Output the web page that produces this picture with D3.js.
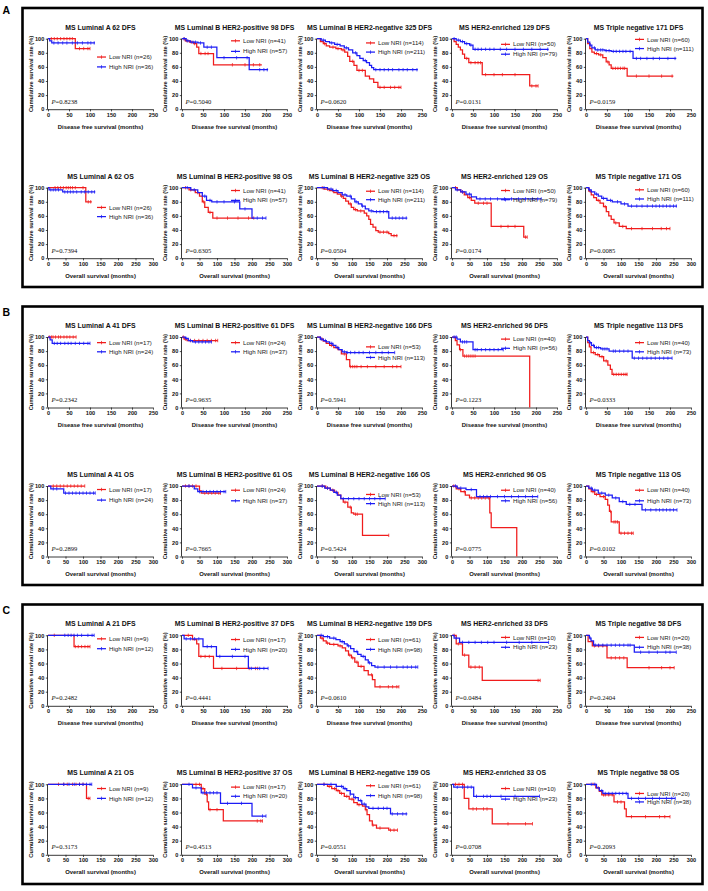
<!DOCTYPE html>
<html><head><meta charset="utf-8">
<script src="https://cdn.jsdelivr.net/npm/d3@7"></script>
<style>body{margin:0;background:#fff}svg{display:block}</style>
</head><body><svg id="c" width="708" height="891"></svg>
<script>
// ---------------- DATA ----------------
const groupLabels = ["A", "B", "C"];
const subtypes = ["MS Luminal A", "MS Luminal B HER2-positive", "MS Luminal B HER2-negative", "MS HER2-enriched", "MS Triple negative"];
const endpoints = ["DFS", "OS"];
const axisTitles = ["Disease free survival (months)", "Overall survival (months)"];
const xMaxByEndpoint = [250, 300];
const xTicks = [[0, 50, 100, 150, 200, 250], [0, 50, 100, 150, 200, 250, 300]];
const yTicks = [0, 20, 40, 60, 80, 100];
const totals = [[62, 98, 325, 129, 171], [41, 61, 166, 96, 113], [21, 37, 159, 33, 58]];
const lowN = [[26, 41, 114, 50, 60], [17, 24, 53, 40, 40], [9, 17, 61, 10, 20]];
const highN = [[36, 57, 211, 79, 111], [24, 37, 113, 56, 73], [12, 20, 98, 23, 38]];
// order: group A DFS x5, A OS x5, B DFS x5, B OS x5, C DFS x5, C OS x5
const pLabels = [
  "0.8238", "0.5040", "0.0620", "0.0131", "0.0159",
  "0.7394", "0.6305", "0.0504", "0.0174", "0.0085",
  "0.2342", "0.9635", "0.5941", "0.1223", "0.0333",
  "0.2899", "0.7665", "0.5424", "0.0775", "0.0102",
  "0.2482", "0.4441", "0.0610", "0.0484", "0.2404",
  "0.3173", "0.4513", "0.0551", "0.0708", "0.2093"
];
// Kaplan-Meier steps [month, survival %] (Low NRI, red)
const lowSteps = [
  [[0,100],[65,86],[100,86]],
  [[0,100],[8,97],[18,95],[28,93],[35,88],[40,79],[75,63],[190,63]],
  [[0,100],[8,96],[15,93],[22,90],[30,88],[45,86],[58,84],[66,81],[73,75],[78,68],[88,62],[95,55],[115,47],[125,43],[135,38],[145,31],[200,31]],
  [[0,100],[5,96],[10,92],[15,88],[20,84],[25,78],[30,72],[40,66],[72,49],[185,33],[205,33]],
  [[0,100],[4,93],[9,86],[14,81],[20,79],[30,77],[40,73],[48,67],[55,63],[60,58],[98,47],[208,47]],
  [[0,100],[108,80],[125,80]],
  [[0,100],[20,97],[38,93],[50,88],[58,80],[65,72],[75,65],[88,57],[205,57]],
  [[0,100],[20,98],[35,96],[48,93],[58,91],[68,88],[75,85],[82,81],[90,77],[98,72],[105,69],[115,67],[135,64],[142,60],[148,55],[153,48],[160,44],[168,39],[175,37],[205,35],[212,32],[230,32]],
  [[0,100],[15,97],[25,94],[35,90],[45,86],[55,82],[65,78],[112,45],[200,45],[205,30],[215,30]],
  [[0,100],[8,95],[15,90],[22,86],[30,82],[40,78],[50,73],[58,66],[65,60],[72,55],[80,50],[95,45],[115,42],[240,42]],
  [[0,100],[67,100]],
  [[0,100],[5,97],[12,95],[85,95]],
  [[0,100],[8,97],[15,94],[22,91],[30,88],[40,85],[50,82],[58,76],[70,68],[78,58],[200,58]],
  [[0,100],[8,95],[12,89],[18,82],[26,73],[185,0]],
  [[0,100],[4,92],[8,86],[12,78],[22,75],[32,72],[42,66],[52,60],[58,54],[62,47],[98,47]],
  [[0,100],[105,100]],
  [[0,100],[50,93],[55,90],[110,90]],
  [[0,100],[25,97],[38,94],[50,91],[60,87],[68,82],[75,77],[88,70],[98,62],[105,60],[130,30],[205,30]],
  [[0,100],[12,96],[25,92],[38,87],[50,83],[108,62],[112,41],[185,0]],
  [[0,100],[8,96],[15,92],[25,88],[40,85],[55,81],[62,73],[67,64],[72,49],[95,33],[135,33]],
  [[0,100],[62,84],[100,84]],
  [[0,100],[25,94],[35,88],[40,70],[75,53],[180,53]],
  [[0,100],[8,96],[15,92],[22,89],[30,87],[50,85],[60,82],[68,78],[75,72],[82,68],[90,62],[98,56],[112,50],[122,44],[132,37],[138,27],[195,27]],
  [[0,100],[10,88],[25,72],[40,55],[72,36],[210,36]],
  [[0,100],[5,91],[15,85],[50,68],[98,54],[210,54]],
  [[0,100],[110,80],[120,80]],
  [[0,100],[55,94],[65,86],[72,75],[76,64],[118,48],[230,48]],
  [[0,100],[30,97],[42,94],[55,91],[65,87],[78,83],[92,79],[105,74],[115,71],[130,69],[138,64],[143,57],[150,48],[158,42],[170,38],[205,35],[230,35]],
  [[0,100],[35,80],[48,65],[115,44],[230,44]],
  [[0,100],[28,95],[38,90],[45,85],[80,75],[110,65],[115,54],[240,54]]
];
// High NRI, blue
const highSteps = [
  [[0,100],[4,97],[9,94],[112,94]],
  [[0,100],[10,97],[20,95],[38,94],[52,88],[83,73],[160,56],[205,56]],
  [[0,100],[10,98],[20,96],[30,94],[42,92],[55,90],[65,87],[75,84],[85,80],[95,76],[102,72],[110,69],[118,66],[125,62],[130,59],[135,56],[240,56]],
  [[0,100],[10,98],[20,96],[30,93],[42,91],[50,85],[230,85]],
  [[0,100],[4,95],[9,91],[14,87],[22,84],[45,83],[60,82],[112,72],[215,72]],
  [[0,100],[3,97],[42,94],[135,94]],
  [[0,100],[25,97],[45,93],[58,88],[70,82],[85,80],[165,70],[200,57],[240,57]],
  [[0,100],[30,98],[45,96],[60,93],[72,90],[85,88],[98,84],[108,80],[118,77],[128,74],[138,70],[148,67],[160,66],[205,57],[258,57]],
  [[0,100],[10,97],[25,94],[40,91],[55,87],[70,84],[255,84]],
  [[0,100],[8,97],[15,94],[25,91],[35,88],[45,85],[60,82],[75,80],[100,77],[120,74],[260,74]],
  [[0,100],[5,96],[10,91],[100,91]],
  [[0,100],[8,98],[15,95],[25,93],[70,93]],
  [[0,100],[8,97],[15,95],[22,93],[30,91],[38,88],[45,85],[52,82],[60,79],[70,78],[185,78]],
  [[0,100],[12,97],[20,93],[50,82],[122,82]],
  [[0,100],[4,95],[8,92],[13,88],[20,85],[35,83],[55,80],[110,70],[205,70]],
  [[0,100],[8,96],[45,90],[135,90]],
  [[0,100],[35,96],[45,92],[125,92]],
  [[0,100],[22,97],[38,94],[48,91],[58,87],[68,82],[195,82]],
  [[0,100],[15,97],[40,95],[70,85],[245,85]],
  [[0,100],[8,97],[18,94],[35,90],[55,87],[75,83],[95,78],[115,74],[160,66],[260,66]],
  [[0,100],[110,100]],
  [[0,100],[5,95],[50,84],[82,70],[158,53],[205,53]],
  [[0,100],[15,98],[30,96],[45,94],[55,91],[65,88],[72,85],[80,81],[88,77],[97,73],[105,70],[115,65],[122,61],[130,57],[138,55],[240,55]],
  [[0,100],[5,96],[18,90],[230,90]],
  [[0,100],[8,96],[12,92],[18,86],[115,76],[215,76]],
  [[0,100],[125,100]],
  [[0,100],[30,95],[55,88],[110,73],[200,55],[240,55]],
  [[0,100],[55,97],[75,94],[85,91],[95,86],[105,81],[118,77],[128,72],[140,68],[148,66],[210,58],[258,58]],
  [[0,100],[5,96],[62,83],[250,83]],
  [[0,100],[30,95],[38,91],[48,87],[120,80],[255,80]]
];
// censoring times (months)
const lowCens = [
  [8,15,22,30,38,45,52,58,75,85,95,100],
  [5,12,22,30,45,55,62,120,150,170,185],
  [18,38,50,62,85,100,108,150,160,175,185,195,200],
  [35,45,55,62,68,80,100,120,150,190,200,205],
  [25,35,52,64,70,76,82,88,92,120,150,180,205],
  [20,28,36,44,52,58,64,70,78,100,115,122],
  [10,25,45,62,80,100,130,160,190,205],
  [15,30,45,70,95,110,125,180,190,200,220,228],
  [10,30,50,75,90,100,140,160,180,210,215],
  [12,35,55,85,105,130,160,190,215,230,240],
  [3,8,12,18,25,30,38,45,52,60,67],
  [3,8,20,30,40,50,60,70,80,85],
  [12,35,48,65,80,85,90,95,105,120,140,160,180,190,200],
  [20,30,35,40,45,50,55],
  [18,28,38,48,66,72,78,84,90,95,98],
  [15,25,35,45,55,65,75,85,95,105],
  [10,20,30,40,65,75,85,95,105,110],
  [15,30,45,55,80,95,110,115,205],
  [5,20,35,55,65,75,85,95,105],
  [20,30,50,70,80,85,90,100,110,120,130,135],
  [15,65,72,80,88,95,100],
  [15,45,55,65,95,130,160,175,180],
  [12,25,40,55,78,85,95,105,130,150,170,180,190,195],
  [5,15,30,45,55,65,205,210],
  [20,30,40,60,70,80,90,150,180,200,210],
  [30,45,55,70,80,90,100,115,120],
  [40,50,60,70,80,100,215,225,230],
  [20,35,50,60,70,85,100,120,140,160,180,210,220,230],
  [10,20,30,60,70,90,100,160,210,230],
  [20,35,50,55,65,75,90,100,130,170,210,225,240]
];
const highCens = [
  [14,24,35,45,58,70,82,95,102,110],
  [5,14,26,32,44,60,70,100,130,155,185,195,203],
  [15,35,48,70,92,115,140,150,160,170,180,195,205,215,228,238],
  [5,15,25,35,45,55,62,70,80,90,100,115,130,150,170,190,210,228],
  [10,20,28,35,40,48,55,65,72,80,88,95,105,120,130,145,160,175,195,212],
  [8,15,22,30,48,56,64,72,82,95,105,115,125,133],
  [15,35,65,80,100,120,150,180,215,230,240],
  [20,40,55,80,95,112,130,155,170,180,190,200,215,225,235,245,255],
  [15,30,50,80,95,110,130,150,170,190,210,230,245,255],
  [10,30,50,70,90,110,130,145,160,175,190,200,210,220,230,240,250,258],
  [15,22,30,40,48,55,65,75,85,95,100],
  [10,20,32,40,48,56,64,70],
  [10,20,35,50,65,72,80,90,100,110,125,140,155,170,185],
  [5,10,25,30,35,55,60,70,80,90,100,110,122],
  [10,18,25,30,40,45,50,65,70,80,90,100,115,125,135,145,155,165,175,185,195,205],
  [15,25,50,60,70,80,90,100,110,120,130,135],
  [20,50,60,70,80,90,100,110,120,125],
  [15,30,55,75,90,105,120,135,150,165,180,195],
  [10,25,55,80,90,100,110,130,150,170,190,210,230,245],
  [15,25,45,65,85,105,125,140,170,185,200,210,220,230,240,250,260],
  [40,48,55,62,70,80,95,105,110],
  [10,20,30,40,60,70,90,120,150,165,185,195,205],
  [10,25,40,60,75,95,110,125,145,160,175,190,205,215,225,235,240],
  [10,25,40,55,70,85,100,130,160,190,230],
  [10,22,30,40,50,60,70,80,90,100,105,130,150,170,190,200,215],
  [45,60,75,90,100,110,120,125],
  [20,40,60,70,80,90,100,130,170,230,240],
  [20,40,55,70,80,95,110,125,135,160,175,190,200,215,230,245,255],
  [15,30,45,55,70,90,100,110,140,180,250],
  [15,25,45,55,65,75,85,95,105,115,130,150,170,190,210,230,245,255]
];
// legend row positions expressed in survival-% units [low, high]
const legendY = [
  [74,60],[97,82],[94,81],[92,78],[99,86],
  [72,59],[96,82],[95,83],[96,83],[97,84],
  [92,79],[92,79],[86,71],[97,84],[92,79],
  [95,80],[94,79],[88,75],[94,79],[94,79],
  [95,81],[94,80],[94,80],[97,83],[97,83],
  [94,80],[96,83],[98,84],[94,79],[87,75]
];

// ---------------- LAYOUT ----------------
const colX = [48, 182, 317, 452, 586];
const rowTop = [38.7, 187.7];
const groupOff = [0, 298.3, 596.6];
const plotW = 105, plotH = 70.5;
const RED = "#f01c1c", BLUE = "#1c1cf5";
const SANS = "'Liberation Sans', Arial, sans-serif";
const SERIF = "'Liberation Serif', 'Times New Roman', serif";

const svg = d3.select("#c");
svg.append("rect").attr("width", 708).attr("height", 891).attr("fill", "#fff");

// group frames and labels
const frames = [[8, 287], [306.5, 585], [604.5, 884]];
groupLabels.forEach((lab, g) => {
  svg.append("rect").attr("x", 22.5).attr("y", frames[g][0])
    .attr("width", 680).attr("height", frames[g][1] - frames[g][0])
    .attr("fill", "none").attr("stroke", "#000").attr("stroke-width", 2.6);
  svg.append("text").attr("x", 2.5).attr("y", [14, 316, 614][g])
    .attr("font-family", SANS).attr("font-weight", "bold").attr("font-size", 10.5)
    .attr("fill", "#000").text(lab);
});

function survAt(steps, t) {
  let s = steps[0][1];
  for (const [tt, ss] of steps) { if (tt <= t) s = ss; else break; }
  return s;
}

for (let g = 0; g < 3; g++) {
  for (let e = 0; e < 2; e++) {
    for (let c = 0; c < 5; c++) {
      const i = g * 10 + e * 5 + c;
      const x0 = colX[c], yT = rowTop[e] + groupOff[g], yB = yT + plotH;
      const x = d3.scaleLinear().domain([0, xMaxByEndpoint[e]]).range([x0, x0 + plotW]);
      const y = d3.scaleLinear().domain([0, 100]).range([yB, yT]);
      const p = svg.append("g");

      // title
      p.append("text").attr("x", x0 + plotW / 2).attr("y", yT - 9)
        .attr("text-anchor", "middle").attr("font-family", SANS).attr("font-weight", "bold")
        .attr("font-size", 6.9).attr("fill", "#111")
        .text(`${subtypes[c]} ${totals[g][c]} ${endpoints[e]}`);

      // axes
      const ax = p.append("g").attr("transform", `translate(0,${yB})`)
        .call(d3.axisBottom(x).tickValues(xTicks[e]).tickSize(2.2).tickPadding(1.5).tickFormat(d3.format("d")));
      const ay = p.append("g").attr("transform", `translate(${x0},0)`)
        .call(d3.axisLeft(y).tickValues(yTicks).tickSize(2.2).tickPadding(1.5).tickFormat(d3.format("d")));
      [ax, ay].forEach(a => {
        a.select(".domain").attr("stroke", "#222").attr("stroke-width", 0.9);
        a.selectAll(".tick line").attr("stroke", "#222").attr("stroke-width", 0.8);
        a.selectAll(".tick text").attr("font-family", SANS).attr("font-weight", "bold")
          .attr("font-size", 5.6).attr("fill", "#111");
      });
      ax.select(".domain").attr("d", `M${x0},0.5H${x0 + plotW}`);
      ay.select(".domain").attr("d", `M-0.5,${yB}V${yT}`);

      // axis titles
      p.append("text").attr("x", x0 + plotW / 2).attr("y", yB + 19.5)
        .attr("text-anchor", "middle").attr("font-family", SANS).attr("font-weight", "bold")
        .attr("font-size", 5.9).attr("fill", "#111").text(axisTitles[e]);
      p.append("text").attr("transform", `translate(${x0 - 15},${(yT + yB) / 2}) rotate(-90)`)
        .attr("text-anchor", "middle").attr("font-family", SANS).attr("font-weight", "bold")
        .attr("font-size", 5.7).attr("fill", "#111").text("Cumulative survival rate (%)");

      // curves
      const line = d3.line().x(d => x(d[0])).y(d => y(d[1])).curve(d3.curveStepAfter);
      const series = [
        { steps: lowSteps[i], cens: lowCens[i], col: RED },
        { steps: highSteps[i], cens: highCens[i], col: BLUE }
      ];
      series.forEach(s => {
        p.append("path").attr("d", line(s.steps)).attr("fill", "none")
          .attr("stroke", s.col).attr("stroke-width", 1.25);
        const tEnd = s.steps[s.steps.length - 1][0];
        s.cens.filter(t => t <= tEnd).forEach(t => {
          const yy = y(survAt(s.steps, t));
          p.append("line").attr("x1", x(t)).attr("x2", x(t))
            .attr("y1", yy - 1.7).attr("y2", yy + 1.7)
            .attr("stroke", s.col).attr("stroke-width", 0.75);
        });
      });

      // legend
      const legItems = [
        { txt: `Low NRI (n=${lowN[g][c]})`, col: RED, v: legendY[i][0] },
        { txt: `High NRI (n=${highN[g][c]})`, col: BLUE, v: legendY[i][1] }
      ];
      legItems.forEach(li => {
        const ly = y(li.v);
        p.append("line").attr("x1", x0 + 49).attr("x2", x0 + 58).attr("y1", ly).attr("y2", ly)
          .attr("stroke", li.col).attr("stroke-width", 1.25);
        p.append("line").attr("x1", x0 + 53.5).attr("x2", x0 + 53.5).attr("y1", ly - 1.7).attr("y2", ly + 1.7)
          .attr("stroke", li.col).attr("stroke-width", 0.75);
        p.append("text").attr("x", x0 + 61).attr("y", ly + 2.1)
          .attr("font-family", SANS).attr("font-size", 6.1).attr("fill", "#222").text(li.txt);
      });

      // p value
      const pt = p.append("text").attr("x", x0 + 3.5).attr("y", yB - 5.5)
        .attr("font-family", SERIF).attr("font-size", 6.6).attr("fill", "#111");
      pt.append("tspan").attr("font-style", "italic").text("P");
      pt.append("tspan").text("=" + pLabels[i]);
    }
  }
}
</script></body></html>
